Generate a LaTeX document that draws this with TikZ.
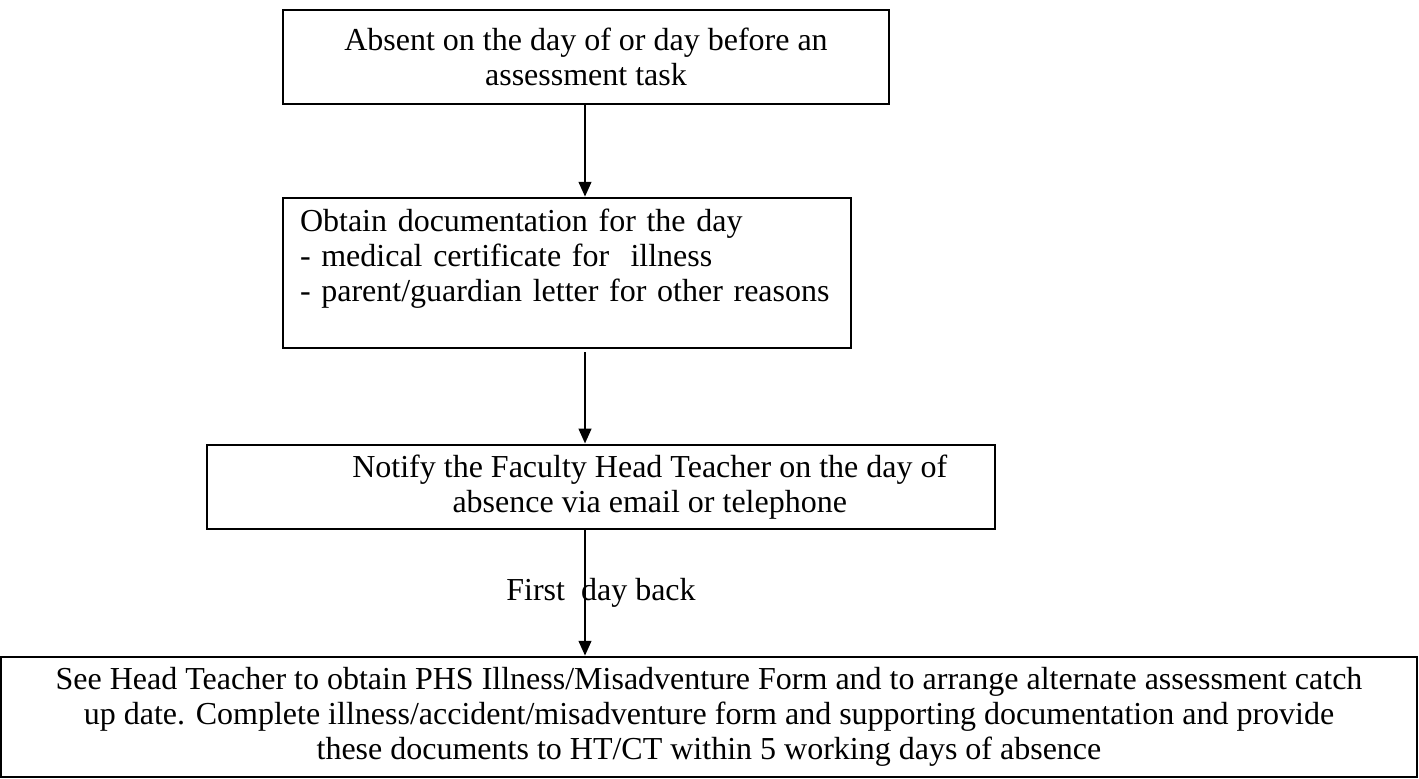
\documentclass[tikz,border=0pt]{standalone}
\usepackage{fontspec}
\setmainfont{Liberation Serif}
\usetikzlibrary{positioning, arrows.meta}
\tikzset{Box style/.style={line width=1pt, draw=black, rectangle, inner sep=4pt, font=\fontsize{12.8pt}{14pt}\selectfont}}
\tikzset{
	->, % arcs are directed
	>={Stealth[inset=0pt, length=6pt, width=5pt]}, % solid triangle tips
}

\begin{document}
\begin{tikzpicture}[line width=1.1pt]
        \useasboundingbox (0pt,0pt) rectangle (567.6pt,-311.2pt);
        \coordinate (spine) at (234pt,0pt);

        \node[Box style, align=center, minimum width=242.4pt, minimum height=37.6pt] (absent) at (234.4pt,-22.8pt)
              {Absent on the day of or day before an\\assessment task};
        \node[Box style, align=left, text width=213.6pt, minimum width=227.2pt, minimum height=60pt,
              below of=absent, node distance=86.4pt, xshift=-7.6pt] (obtain)
              {Obtain documentation for the day\\- medical certificate for\ \ illness\\- parent/guardian letter for other reasons\\\mbox{}};
        \node[Box style, align=center, minimum width=315.2pt, minimum height=32pt,
              below of=obtain, node distance=85.6pt, xshift=13.6pt] (notify)
              {\hspace*{39pt}Notify the Faculty Head Teacher on the day of\\\hspace*{39pt}absence via email or telephone};
        \node[Box style, align=center, minimum width=566.4pt, minimum height=48pt,
              below of=notify, node distance=92pt, xshift=43.2pt] (form)
              {See Head Teacher to obtain PHS Illness/Misadventure Form and to arrange alternate assessment catch\\
               up date. Complete illness/accident/misadventure form and supporting documentation and provide\\
               these documents to HT/CT within 5 working days of absence};

        \draw (absent.south -| spine) -- (obtain.north -| spine);
        \draw ([yshift=-1.2pt]obtain.south -| spine) -- (notify.north -| spine);
        \draw (notify.south -| spine) -- node[Box style, draw=none, xshift=6.4pt] {First\ \ day back} (form.north -| spine);
\end{tikzpicture}
\end{document}
